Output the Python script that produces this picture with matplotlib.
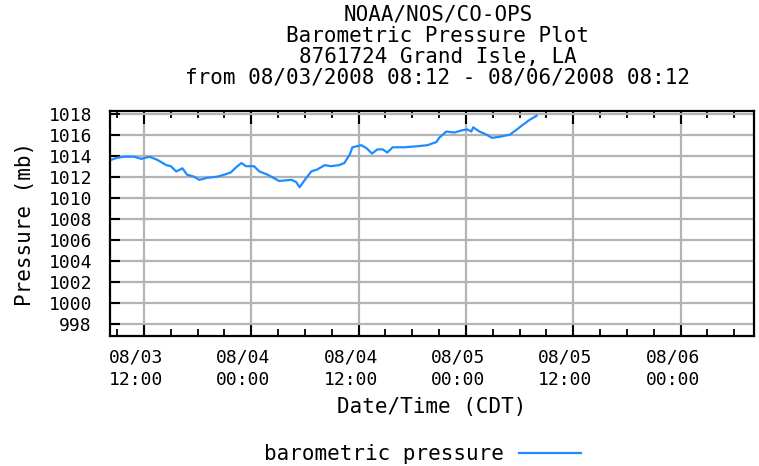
import numpy as np
import matplotlib
matplotlib.use('Agg')
import matplotlib.pyplot as plt
import matplotlib.dates as mdates
import matplotlib.transforms as mtransforms
from datetime import datetime, timedelta

# Barometric pressure, Grand Isle LA
start = datetime(2008, 8, 3, 8, 12)
end = datetime(2008, 8, 6, 8, 12)
hours = [0.0, 0.1, 0.8, 1.6, 2.7, 3.5, 4.4, 5.3, 6.3, 6.8, 7.4, 8.1, 8.6, 9.4,
         10.0, 10.9, 12.0, 12.8, 13.5, 14.1, 14.7, 15.2, 16.1, 16.7, 17.6,
         18.9, 20.3, 20.8, 21.2, 21.7, 22.5, 23.2, 24.0, 24.7, 25.6, 26.2,
         26.8, 27.1, 28.1, 28.7, 29.3, 29.9, 30.5, 31.0, 31.6, 32.9, 34.4,
         35.5, 36.5, 36.8, 37.6, 38.5, 39.3, 39.9, 40.4, 40.6, 41.3, 42.1,
         42.7, 43.6, 44.7, 45.5, 46.1, 46.9, 47.7]
pressure = [1013.6, 1013.6, 1013.8, 1013.9, 1013.9, 1013.7, 1013.9, 1013.6,
            1013.1, 1013.0, 1012.5, 1012.8, 1012.2, 1012.0, 1011.7, 1011.9,
            1012.0, 1012.2, 1012.4, 1012.9, 1013.3, 1013.0, 1013.0, 1012.5,
            1012.2, 1011.6, 1011.7, 1011.5, 1011.0, 1011.6, 1012.5, 1012.7,
            1013.1, 1013.0, 1013.1, 1013.3, 1014.1, 1014.8, 1015.0, 1014.7,
            1014.2, 1014.6, 1014.6, 1014.3, 1014.8, 1014.8, 1014.9, 1015.0,
            1015.3, 1015.7, 1016.3, 1016.2, 1016.4, 1016.5, 1016.3, 1016.7,
            1016.3, 1016.0, 1015.7, 1015.8, 1016.0, 1016.5, 1016.9, 1017.4,
            1017.8]
yticks = list(range(998, 1019, 2))
title_lines = ['NOAA/NOS/CO-OPS', 'Barometric Pressure Plot',
               '8761724 Grand Isle, LA',
               'from 08/03/2008 08:12 - 08/06/2008 08:12']

times = [start + timedelta(hours=h) for h in hours]

plt.rcParams['font.family'] = 'DejaVu Sans Mono'
fig = plt.figure(figsize=(7.59, 4.66), dpi=100)
ax = fig.add_axes([110/759, 1-336/466, 644/759, 225/466])

ax.plot(times, pressure, color='#1e8cff', lw=1.6, label='barometric pressure')

ax.set_xlim(start, end)
ax.set_ylim(996.85, 1018.25)
ax.set_yticks(yticks)
ax.xaxis.set_major_locator(mdates.HourLocator(byhour=[0, 12]))
ax.xaxis.set_minor_locator(mdates.HourLocator(byhour=range(0, 24, 3)))
ax.xaxis.set_major_formatter(mdates.DateFormatter('%m/%d\n%H:%M'))

ax.grid(True, which='major', color='#b4b4b4', lw=1.6)
ax.set_axisbelow(True)
ax.tick_params(axis='x', which='major', direction='in', length=9, width=1.5,
               top=True, labelsize=13, pad=9)
ax.tick_params(axis='x', which='minor', direction='in', length=5, width=1.3,
               top=True)
ax.tick_params(axis='y', direction='in', length=7, width=1.5, labelsize=13,
               pad=13)
for lab in ax.get_xticklabels():
    lab.set_linespacing(1.3)
    lab.set_transform(lab.get_transform() +
                      mtransforms.ScaledTranslation(-0.08, 0, fig.dpi_scale_trans))
for s in ax.spines.values():
    s.set_linewidth(1.6)

ax.set_xlabel('Date/Time (CDT)', fontsize=15, labelpad=6)
ax.set_ylabel('Pressure (mb)', fontsize=15, labelpad=10)

for i, line in enumerate(title_lines):
    fig.text(0.577, 0.968 - i*0.045, line, ha='center', va='center',
             fontsize=15)

fig.legend(loc='center', bbox_to_anchor=(0.557, 0.026), frameon=False,
           markerfirst=False, handlelength=3.0, handletextpad=0.7,
           fontsize=15)

fig.savefig('out.png', dpi=100)
